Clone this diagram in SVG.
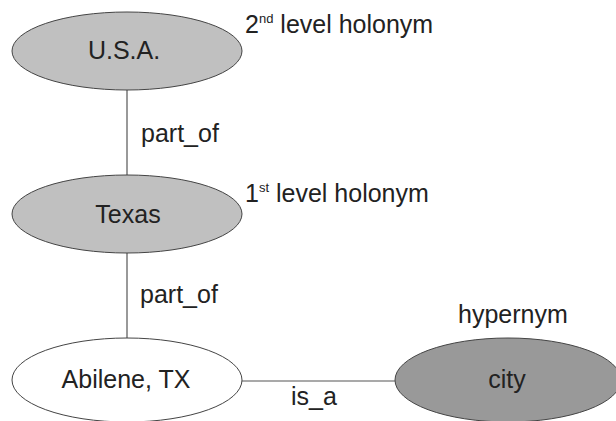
<svg xmlns="http://www.w3.org/2000/svg" width="616" height="421" viewBox="0 0 616 421">
  <style>
    .node { stroke: #444; stroke-width: 1; }
    .light { fill: #c0c0c0; }
    .white { fill: #ffffff; }
    .dark { fill: #999999; }
    text { font-family: "Liberation Sans", Arial, sans-serif; font-size: 25px; fill: #222; }
    .mid { text-anchor: middle; }
    .sup { font-size: 13px; }
    .edge { stroke: #555; stroke-width: 1.2; fill: none; }
  </style>
  <rect width="616" height="421" fill="#ffffff"/>

  <!-- connectors -->
  <g id="edges">
    <line class="edge" x1="127" y1="90" x2="127" y2="175"/>
    <line class="edge" x1="127" y1="253" x2="127" y2="338"/>
    <line class="edge" x1="242" y1="381" x2="395" y2="381"/>
    <text x="141" y="142">part_of</text>
    <text x="140" y="303">part_of</text>
    <text class="mid" x="314" y="405">is_a</text>
  </g>

  <g id="usa">
    <ellipse class="node light" cx="127" cy="51" rx="115" ry="39"/>
    <text class="mid" x="124" y="59">U.S.A.</text>
  </g>

  <g id="texas">
    <ellipse class="node light" cx="127" cy="214" rx="115" ry="39"/>
    <text class="mid" x="128" y="223">Texas</text>
  </g>

  <g id="abilene">
    <ellipse class="node white" cx="127" cy="380" rx="115" ry="42"/>
    <text class="mid" x="126" y="388">Abilene, TX</text>
  </g>

  <g id="city">
    <ellipse class="node dark" cx="508" cy="380" rx="113" ry="42"/>
    <text class="mid" x="507" y="388">city</text>
  </g>

  <!-- level annotations -->
  <g id="labels">
    <text x="245" y="33">2<tspan class="sup" dy="-10">nd</tspan><tspan dy="10"> level holonym</tspan></text>
    <text x="245" y="202">1<tspan class="sup" dy="-10">st</tspan><tspan dy="10"> level holonym</tspan></text>
    <text x="458" y="323">hypernym</text>
  </g>
</svg>
